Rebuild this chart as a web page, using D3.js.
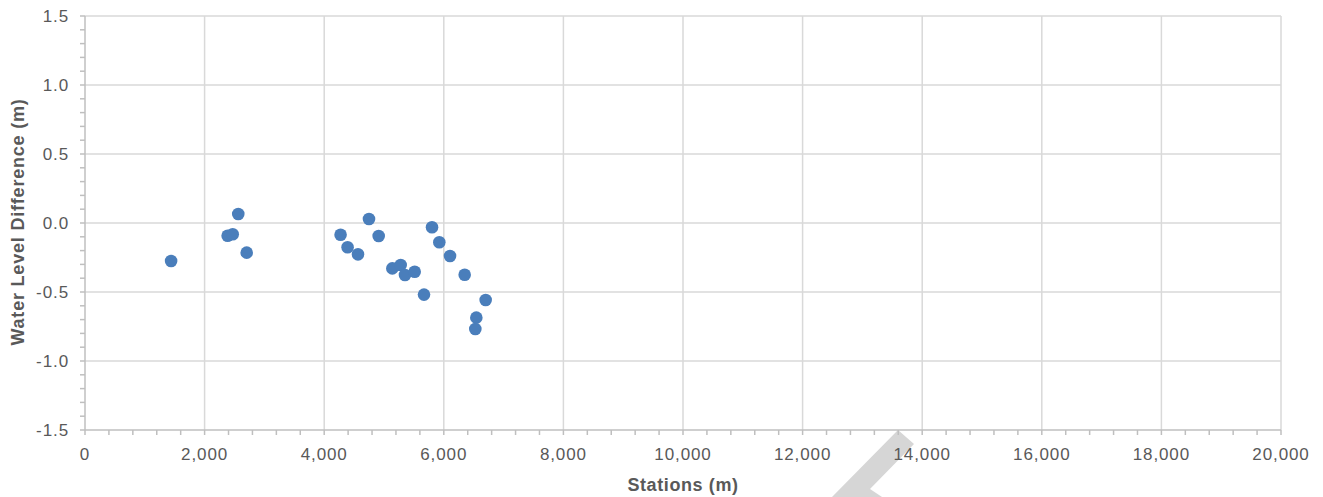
<!DOCTYPE html>
<html>
<head>
<meta charset="utf-8">
<script src="https://cdn.jsdelivr.net/npm/d3@7"></script>
<style>
  html, body { margin: 0; padding: 0; background: #fff; }
  svg { display: block; }
  text { font-family: "Liberation Sans", Arial, sans-serif; }
</style>
</head>
<body>
<svg id="chart" width="1323" height="497"></svg>
<script>
// Data
const stations = [1440, 2563, 2385, 2470, 2704, 4274, 4391, 4565, 4749, 4911, 5139, 5279, 5351, 5513, 5669, 5803, 5925, 6104, 6349, 6700, 6544, 6527];
const levelDiff = [-0.275, 0.065, -0.092, -0.082, -0.215, -0.085, -0.176, -0.227, 0.029, -0.094, -0.329, -0.304, -0.377, -0.353, -0.519, -0.031, -0.140, -0.239, -0.375, -0.558, -0.686, -0.768];
const xTicks = [0, 2000, 4000, 6000, 8000, 10000, 12000, 14000, 16000, 18000, 20000];
const yTicks = [-1.5, -1.0, -0.5, 0.0, 0.5, 1.0, 1.5];
const xTitle = "Stations (m)";
const yTitle = "Water Level Difference (m)";

(function () {
const svg = d3.select("#chart");
const mLeft = 85, mRight = 1281, mTop = 16, mBottom = 430;

const x = d3.scaleLinear().domain([0, 20000]).range([mLeft, mRight]);
const y = d3.scaleLinear().domain([-1.5, 1.5]).range([mBottom, mTop]);

const gridColor = "#d9d9d9";
const axisColor = "#bfbfbf";
const textColor = "#595959";

// Watermark fragment (behind the labels)
svg.append("polygon")
  .attr("points", "898,430 914,444 870,489 882,497 832,497")
  .attr("fill", "#d6d6d6");

// Gridlines
svg.append("g").selectAll("line").data(yTicks.filter(d => d !== -1.5)).join("line")
  .attr("x1", mLeft).attr("x2", mRight)
  .attr("y1", d => y(d)).attr("y2", d => y(d))
  .attr("stroke", gridColor).attr("stroke-width", 1.5);
svg.append("g").selectAll("line").data(xTicks.filter(d => d !== 0)).join("line")
  .attr("x1", d => x(d)).attr("x2", d => x(d))
  .attr("y1", mTop).attr("y2", mBottom)
  .attr("stroke", gridColor).attr("stroke-width", 1.5);

// X axis with minor ticks
const xMinor = d3.range(0, 20001, 400);
const xAxis = svg.append("g").attr("transform", `translate(0,${mBottom})`);
xAxis.append("line").attr("x1", mLeft).attr("x2", mRight).attr("stroke", axisColor).attr("stroke-width", 1.5);
xAxis.selectAll("line.t").data(xMinor).join("line").attr("class", "t")
  .attr("x1", d => x(d)).attr("x2", d => x(d)).attr("y1", 0).attr("y2", 5)
  .attr("stroke", axisColor).attr("stroke-width", 1.5);
xAxis.selectAll("text").data(xTicks).join("text")
  .attr("x", d => x(d)).attr("y", 30)
  .attr("text-anchor", "middle")
  .attr("font-size", 17).attr("letter-spacing", 0.9).attr("fill", textColor)
  .text(d => d3.format(",")(d));

// Y axis with minor ticks
const yMinor = d3.range(-15, 16, 1).map(d => d / 10);
const yAxis = svg.append("g").attr("transform", `translate(${mLeft},0)`);
yAxis.append("line").attr("y1", mTop).attr("y2", mBottom).attr("stroke", axisColor).attr("stroke-width", 1.5);
yAxis.selectAll("line.t").data(yMinor).join("line").attr("class", "t")
  .attr("x1", -5).attr("x2", 0).attr("y1", d => y(d)).attr("y2", d => y(d))
  .attr("stroke", axisColor).attr("stroke-width", 1.5);
yAxis.selectAll("text").data(yTicks).join("text")
  .attr("x", -16).attr("y", d => y(d) + 6)
  .attr("text-anchor", "end")
  .attr("font-size", 17).attr("letter-spacing", 0.9).attr("fill", textColor)
  .text(d => d3.format(".1f")(d).replace("\u2212", "-"));

// Points
svg.append("g").selectAll("circle").data(stations.map((s, i) => [s, levelDiff[i]])).join("circle")
  .attr("cx", d => x(d[0])).attr("cy", d => y(d[1])).attr("r", 6.3)
  .attr("fill", "#4a7ebb");

// Axis titles
svg.append("text").attr("x", 683).attr("y", 491)
  .attr("text-anchor", "middle").attr("font-size", 18).attr("font-weight", "bold")
  .attr("letter-spacing", 0.6)
  .attr("fill", textColor).text(xTitle);
svg.append("text").attr("transform", "translate(24,222) rotate(-90)")
  .attr("text-anchor", "middle").attr("font-size", 18).attr("font-weight", "bold")
  .attr("letter-spacing", 0.8)
  .attr("fill", textColor).text(yTitle);
})();
</script>
</body>
</html>
